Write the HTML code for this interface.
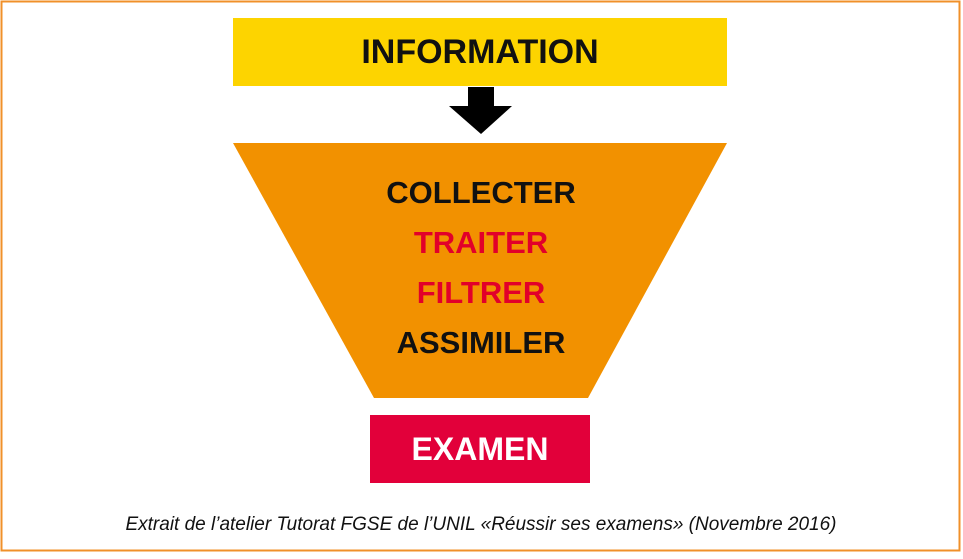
<!DOCTYPE html>
<html><head><meta charset="utf-8"><style>
body{margin:0;width:963px;height:554px;background:#fff;overflow:hidden;font-family:"Liberation Sans",sans-serif}
</style></head><body>
<svg width="963" height="554" xmlns="http://www.w3.org/2000/svg">
<rect x="1.5" y="1.5" width="958" height="549" fill="#fff" stroke="#f0902a" stroke-width="2"/>
<rect x="233" y="18" width="494" height="68" fill="#fdd400"/>
<text x="480" y="63" text-anchor="middle" font-family="Liberation Sans, sans-serif" font-weight="bold" font-size="34" fill="#111">INFORMATION</text>
<rect x="468" y="87" width="26" height="20" fill="#000"/>
<polygon points="449,106 512,106 481,134" fill="#000"/>
<polygon points="233,143 727,143 588,398 374,398" fill="#f29100"/>
<g font-family="Liberation Sans, sans-serif" font-weight="bold" font-size="31" text-anchor="middle">
<text x="481" y="203" fill="#111">COLLECTER</text>
<text x="481" y="253" fill="#e2002a">TRAITER</text>
<text x="481" y="303" fill="#e2002a">FILTRER</text>
<text x="481" y="353" fill="#111">ASSIMILER</text>
</g>
<rect x="370" y="415" width="220" height="68" fill="#e2003a"/>
<text x="480" y="460" text-anchor="middle" font-family="Liberation Sans, sans-serif" font-weight="bold" font-size="32" fill="#fff">EXAMEN</text>
<text x="481" y="530" text-anchor="middle" font-family="Liberation Sans, sans-serif" font-style="italic" font-size="19" fill="#111">Extrait de l’atelier Tutorat FGSE de l’UNIL «Réussir ses examens» (Novembre 2016)</text>
</svg>
</body></html>
